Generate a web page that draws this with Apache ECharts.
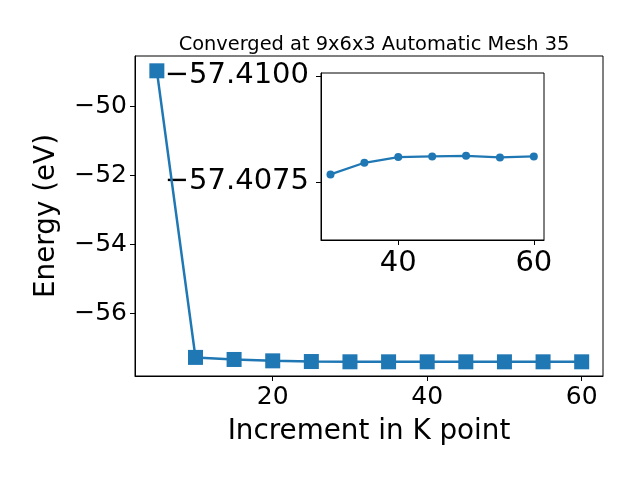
<!DOCTYPE html>
<html>
<head>
<meta charset="utf-8">
<script src="https://cdn.jsdelivr.net/npm/echarts@6/dist/echarts.min.js"></script>
<style>
  html, body { margin: 0; padding: 0; background: #fff; }
  #main { width: 640px; height: 480px; }
</style>
</head>
<body>
<div id="main"></div>
<script>
// k点增量
const kPoints = [5, 10, 15, 20, 25, 30, 35, 40, 45, 50, 55, 60]
// 能量 (eV)
const energy = [-48.96, -57.28, -57.34, -57.38, -57.40, -57.407675, -57.407948, -57.408083, -57.408099, -57.408113, -57.408075, -57.408099]
// 小图从 30 开始
const insetStart = 5
const mainXTicks = [20, 40, 60]
const mainYTicks = [-56, -54, -52, -50]
const insetXTicks = [40, 60]
const insetYTicks = [-57.41, -57.4075]

const font = 'DejaVu Sans'
const blue = '#1f77b4'
const nameSize = 27.8 // 轴标题
const tickSize = 25 // 主图刻度
const insetSize = 29 // 小图刻度

// 负号用 U+2212
function fmt(v, d) {
  let s = Number(v).toFixed(d)
  return s.replace('-', '\u2212')
}

let mainData = kPoints.map((k, i) => [k, energy[i]])
let insetData = kPoints.slice(insetStart).map((k, i) => [k, energy[i + insetStart]])

let chart = echarts.init(document.getElementById('main'))

chart.setOption({
  animation: false,
  backgroundColor: '#fff',
  title: {
    text: 'Converged at 9x6x3 Automatic Mesh 35',
    left: 369,
    top: 30,
    textAlign: 'center',
    textStyle: { fontFamily: font, fontSize: 19.4, fontWeight: 'normal', color: '#000' }
  },
  grid: [
    {
      left: 135, right: 37, top: 56, bottom: 104,
      show: true, borderColor: '#000', borderWidth: 1, backgroundColor: 'transparent'
    },
    {
      left: 321, right: 96, top: 73, bottom: 240,
      show: true, borderColor: '#000', borderWidth: 1, backgroundColor: '#fff'
    }
  ],
  xAxis: [
    {
      gridIndex: 0, type: 'value', min: 2.17, max: 62.76,
      name: 'Increment in K point', nameLocation: 'middle', nameGap: 42,
      nameTextStyle: { fontFamily: font, fontSize: nameSize, color: '#000' },
      axisLine: { show: true, lineStyle: { color: '#000', width: 1 } },
      axisTick: { show: true, length: 5, lineStyle: { color: '#000' }, customValues: mainXTicks },
      axisLabel: { fontFamily: font, fontSize: tickSize, color: '#000', margin: 9, customValues: mainXTicks, formatter: v => fmt(v, 0) },
      splitLine: { show: false }
    },
    {
      gridIndex: 1, type: 'value', min: 28.6, max: 61.5,
      axisLine: { show: true, lineStyle: { color: '#000', width: 1 } },
      axisTick: { show: true, length: 5, lineStyle: { color: '#000' }, customValues: insetXTicks },
      axisLabel: { fontFamily: font, fontSize: insetSize, color: '#000', margin: 9, customValues: insetXTicks, formatter: v => fmt(v, 0) },
      splitLine: { show: false }
    }
  ],
  yAxis: [
    {
      gridIndex: 0, type: 'value', min: -57.82, max: -48.53,
      name: 'Energy (eV)', nameLocation: 'middle', nameGap: 74,
      nameTextStyle: { fontFamily: font, fontSize: nameSize, color: '#000' },
      axisLine: { show: true, lineStyle: { color: '#000', width: 1 } },
      axisTick: { show: true, length: 5, lineStyle: { color: '#000' }, customValues: mainYTicks },
      axisLabel: { fontFamily: font, fontSize: tickSize, color: '#000', margin: 8, customValues: mainYTicks, formatter: v => fmt(v, 0) },
      splitLine: { show: false }
    },
    {
      gridIndex: 1, type: 'value', inverse: true, min: -57.41007, max: -57.406125,
      axisLine: { show: true, lineStyle: { color: '#000', width: 1 } },
      axisTick: { show: true, length: 5, lineStyle: { color: '#000' }, customValues: insetYTicks },
      axisLabel: { fontFamily: font, fontSize: insetSize, color: '#000', margin: 12, customValues: insetYTicks, formatter: v => fmt(v, 4) },
      splitLine: { show: false }
    }
  ],
  series: [
    {
      type: 'line', xAxisIndex: 0, yAxisIndex: 0, data: mainData,
      symbol: 'rect', symbolSize: 15,
      lineStyle: { color: blue, width: 2.5 },
      itemStyle: { color: blue },
      z: 2
    },
    {
      type: 'line', xAxisIndex: 1, yAxisIndex: 1, data: insetData,
      symbol: 'circle', symbolSize: 8,
      lineStyle: { color: blue, width: 2.2 },
      itemStyle: { color: blue },
      z: 3
    }
  ]
})
</script>
</body>
</html>
